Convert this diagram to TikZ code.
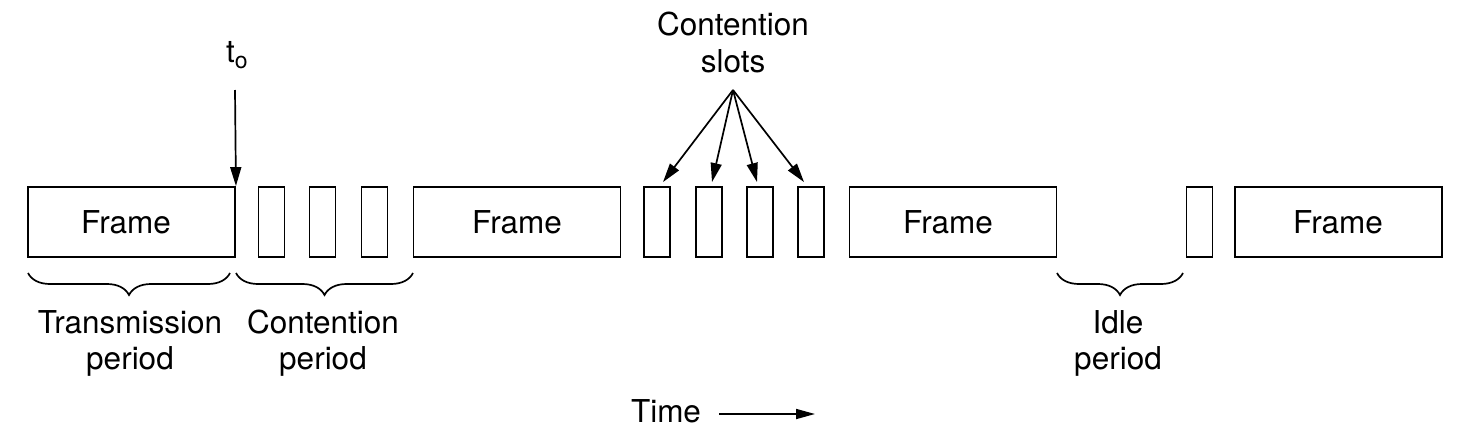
\documentclass[tikz,border=0pt]{standalone}
\usepackage{fontspec}
\setmainfont{TeX Gyre Heros}
\usetikzlibrary{arrows.meta,decorations.pathreplacing}
\begin{document}
\begin{tikzpicture}[x=1pt,y=-1pt,
  every node/.style={font=\fontsize{31.5}{36}\selectfont},
  lw/.style={line width=1.9pt},
  frame/.style={lw,draw,rectangle,minimum width=207pt,minimum height=70pt,inner sep=0pt},
  slot/.style={lw,draw,rectangle,minimum width=26pt,minimum height=70pt,inner sep=0pt},
  lbl/.style={anchor=base,inner sep=0pt},
  arr/.style={line width=1.7pt,-{Triangle[length=19pt,width=11pt]}},
  brc/.style={line width=1.7pt,decorate,decoration={brace,mirror,amplitude=22pt}}]
\useasboundingbox (0,0) rectangle (1463,429);
% frames and slots
\node[frame] (f1) at (131.5,222) {};
\node[slot] (a1) at (271.5,222) {};
\node[slot] (a2) at (322.5,222) {};
\node[slot] (a3) at (374.5,222) {};
\node[frame] (f2) at (517,222) {};
\node[slot] (b1) at (657,222) {};
\node[slot] (b2) at (709,222) {};
\node[slot] (b3) at (760,222) {};
\node[slot] (b4) at (811,222) {};
\node[frame] (f3) at (953,222) {};
\node[slot] (c1) at (1199.5,222) {};
\node[frame] (f4) at (1338.5,222) {};
% frame labels
\node[lbl] (l1) at (126,233) {Frame};
\node[lbl] (l2) at (517,233) {Frame};
\node[lbl] (l3) at (948,233) {Frame};
\node[lbl] (l4) at (1338,233) {Frame};
% t0
\node[lbl] (t0) at (237,62) {t\raisebox{-6pt}{\fontsize{23}{23}\selectfont o}};
\coordinate (t0s) at (235,90);
\draw[arr] (t0s) -- (f1.north east);
% contention slots
\node[lbl] (cs1) at (733,35) {Contention};
\node[lbl] (cs2) at (733,72) {slots};
\coordinate (cso) at (733,90);
\draw[arr] (cso) -- ([xshift=6pt,yshift=4pt]b1.north);
\draw[arr] (cso) -- ([xshift=3pt,yshift=4pt]b2.north);
\draw[arr] (cso) -- ([xshift=-3pt,yshift=4pt]b3.north);
\draw[arr] (cso) -- ([xshift=-7pt,yshift=4pt]b4.north);
% braces
\coordinate (br1a) at (28,273); \coordinate (br1b) at (230,273);
\coordinate (br2a) at (236,273); \coordinate (br2b) at (413,273);
\coordinate (br3a) at (1057,273); \coordinate (br3b) at (1183,273);
\draw[brc] (br1a) -- (br1b);
\draw[brc] (br2a) -- (br2b);
\draw[brc] (br3a) -- (br3b);
\node[lbl] (tp1) at (130,333) {Transmission};
\node[lbl] (tp2) at (130,369) {period};
\node[lbl] (cp1) at (323,333) {Contention};
\node[lbl] (cp2) at (323,369) {period};
\node[lbl] (ip1) at (1118,333) {Idle};
\node[lbl] (ip2) at (1118,369) {period};
% time
\node[lbl] (time) at (666,422) {Time};
\coordinate (ta) at (719,414);
\coordinate (tb) at (815,414);
\draw[line width=1.7pt,-{Triangle[length=19pt,width=10pt]}] (ta) -- (tb);
\end{tikzpicture}
\end{document}
